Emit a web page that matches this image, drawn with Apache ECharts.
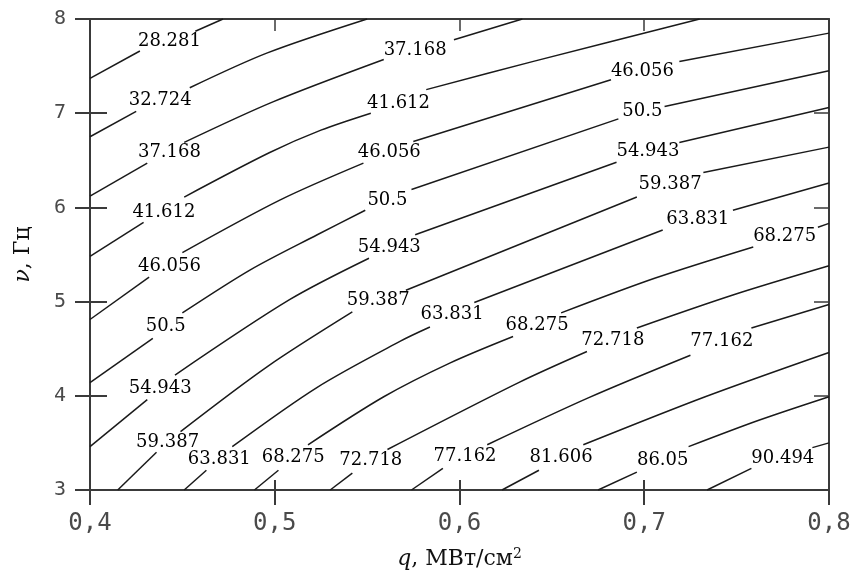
<!DOCTYPE html>
<html><head><meta charset="utf-8">
<script src="https://cdn.jsdelivr.net/npm/echarts@6/dist/echarts.min.js"></script>
<style>html,body{margin:0;padding:0;background:#fff}#c{width:850px;height:573px}</style>
</head><body><div id="c"></div>
<script>
// Tick labels
const xTickLabels = ['0,4', '0,5', '0,6', '0,7', '0,8'];
const yTickLabels = ['3', '4', '5', '6', '7', '8'];

// Contour levels (label text)
const levels = ['28.281', '32.724', '37.168', '41.612', '46.056', '50.5', '54.943', '59.387',
                '63.831', '68.275', '72.718', '77.162', '81.606', '86.05', '90.494'];

// Contour line segments [q, v] (gaps where labels sit) and label anchor points
const c28281 = [[[0.4, 7.37], [0.427, 7.66]], [[0.457, 7.87], [0.472, 8.0]]];
const l28281 = [[0.443, 7.76]];
const c32724 = [[[0.4, 6.75], [0.425, 7.02]], [[0.454, 7.27], [0.496, 7.64], [0.550, 8.0]]];
const l32724 = [[0.438, 7.14]];
const c37168 = [[[0.4, 6.12], [0.431, 6.47]], [[0.451, 6.69], [0.499, 7.12], [0.559, 7.57]], [[0.597, 7.78], [0.634, 8.0]]];
const l37168 = [[0.443, 6.58], [0.576, 7.67]];
const c41612 = [[[0.4, 5.48], [0.429, 5.84]], [[0.451, 6.11], [0.497, 6.58], [0.525, 6.82], [0.552, 7.0]], [[0.582, 7.25], [0.640, 7.55], [0.730, 8.0]]];
const l41612 = [[0.440, 5.95], [0.567, 7.11]];
const c46056 = [[[0.4, 4.81], [0.432, 5.26]], [[0.450, 5.52], [0.503, 6.08], [0.548, 6.47]], [[0.575, 6.70], [0.682, 7.355]], [[0.719, 7.55], [0.8, 7.85]]];
const l46056 = [[0.443, 5.37], [0.562, 6.58], [0.699, 7.44]];
const c50500 = [[[0.4, 4.14], [0.434, 4.61]], [[0.450, 4.88], [0.487, 5.34], [0.523, 5.71], [0.549, 5.97]], [[0.574, 6.19], [0.686, 6.94]], [[0.711, 7.07], [0.8, 7.45]]];
const l50500 = [[0.441, 4.74], [0.561, 6.07], [0.699, 7.02]];
const c54943 = [[[0.4, 3.46], [0.431, 3.96]], [[0.446, 4.22], [0.508, 5.02], [0.551, 5.46]], [[0.576, 5.71], [0.685, 6.48]], [[0.719, 6.69], [0.8, 7.06]]];
const l54943 = [[0.438, 4.08], [0.562, 5.58], [0.702, 6.59]];
const c59387 = [[[0.415, 3.0], [0.436, 3.40]], [[0.449, 3.62], [0.496, 4.31], [0.542, 4.89]], [[0.571, 5.12], [0.696, 6.11]], [[0.732, 6.37], [0.8, 6.64]]];
const l59387 = [[0.442, 3.51], [0.556, 5.01], [0.714, 6.24]];
const c63831 = [[[0.451, 3.0], [0.463, 3.21]], [[0.477, 3.46], [0.523, 4.09], [0.568, 4.58], [0.584, 4.73]], [[0.608, 4.99], [0.710, 5.76]], [[0.748, 5.97], [0.8, 6.26]]];
const l63831 = [[0.470, 3.33], [0.596, 4.86], [0.729, 5.87]];
const c68275 = [[[0.489, 3.0], [0.502, 3.21]], [[0.518, 3.48], [0.559, 3.99], [0.595, 4.35], [0.629, 4.63]], [[0.655, 4.88], [0.706, 5.25], [0.759, 5.58]], [[0.794, 5.79], [0.8, 5.83]]];
const l68275 = [[0.510, 3.35], [0.642, 4.75], [0.776, 5.69]];
const c72718 = [[[0.530, 3.0], [0.542, 3.18]], [[0.561, 3.43], [0.632, 4.14], [0.669, 4.47]], [[0.696, 4.72], [0.748, 5.07], [0.8, 5.38]]];
const l72718 = [[0.552, 3.31], [0.683, 4.59]];
const c77162 = [[[0.574, 3.0], [0.591, 3.23]], [[0.615, 3.48], [0.670, 3.98], [0.725, 4.43]], [[0.758, 4.72], [0.8, 4.97]]];
const l77162 = [[0.603, 3.36], [0.742, 4.58]];
const c81606 = [[[0.623, 3.0], [0.643, 3.21]], [[0.667, 3.48], [0.733, 3.99], [0.8, 4.46]]];
const l81606 = [[0.655, 3.35]];
const c86050 = [[[0.675, 3.0], [0.696, 3.19]], [[0.724, 3.46], [0.762, 3.74], [0.8, 3.99]]];
const l86050 = [[0.710, 3.32]];
const c90494 = [[[0.734, 3.0], [0.758, 3.23]], [[0.791, 3.45], [0.8, 3.50]]];
const l90494 = [[0.775, 3.34]];

const contourSegs = [c28281, c32724, c37168, c41612, c46056, c50500, c54943, c59387, c63831, c68275, c72718, c77162, c81606, c86050, c90494];
const contourLabs = [l28281, l32724, l37168, l41612, l46056, l50500, l54943, l59387, l63831, l68275, l72718, l77162, l81606, l86050, l90494];

const LINE = '#1a1a1a';
const AX = '#3a3a3a';

const series = [];
contourSegs.forEach(function (segs) {
  segs.forEach(function (seg) {
    series.push({
      type: 'line', data: seg, smooth: 0.3, showSymbol: false, symbol: 'none',
      lineStyle: { color: LINE, width: 1.5 }, silent: true, z: 2
    });
  });
});
const labelData = [];
contourLabs.forEach(function (labs, i) {
  labs.forEach(function (p) { labelData.push([p[0], p[1], levels[i]]); });
});
series.push({
  type: 'scatter', data: labelData, symbolSize: 0, itemStyle: { color: '#000', opacity: 1 }, silent: true, z: 5,
  label: {
    show: true, position: [0, 0], align: 'center', verticalAlign: 'middle',
    formatter: function (p) { return p.value[2]; },
    fontFamily: 'DejaVu Serif', fontSize: 18, color: '#000',
    textBorderWidth: 0
  }
});

const xFmt = function (v) { return xTickLabels[Math.round((v - 0.4) / 0.1)]; };
const yFmt = function (v) { return yTickLabels[Math.round(v - 3)]; };

const baseX = { type: 'value', min: 0.4, max: 0.8, interval: 0.1, splitLine: { show: false } };
const baseY = { type: 'value', min: 3, max: 8, interval: 1, splitLine: { show: false } };

const option = {
  animation: false,
  backgroundColor: '#fff',
  grid: { left: 90, right: 21, top: 19, bottom: 83, containLabel: false, outerBoundsMode: 'none' },
  xAxis: [
    Object.assign({}, baseX, {
      position: 'bottom',
      axisLine: { show: true, lineStyle: { color: AX, width: 2 } },
      axisTick: { show: true, inside: false, length: 15, lineStyle: { color: AX, width: 2 } },
      axisLabel: { formatter: xFmt, fontFamily: 'DejaVu Sans Mono', fontSize: 24, color: '#4a4a4a', margin: 22 },
      name: '{i|q}, МВт/см{s|2}', nameLocation: 'middle', nameGap: 57,
      nameTextStyle: {
        fontFamily: 'DejaVu Serif', fontSize: 22, color: '#111',
        rich: {
          i: { fontFamily: 'DejaVu Serif', fontStyle: 'italic', fontSize: 22, color: '#111' },
          s: { fontFamily: 'DejaVu Serif', fontSize: 14, color: '#111', verticalAlign: 'top', padding: [0, 0, 11, 0] }
        }
      }
    }),
    Object.assign({}, baseX, {
      position: 'bottom',
      axisLine: { show: false },
      axisTick: { show: true, inside: true, length: 10, lineStyle: { color: AX, width: 2 } },
      axisLabel: { show: false }
    }),
    Object.assign({}, baseX, {
      position: 'top',
      axisLine: { show: true, lineStyle: { color: AX, width: 2 } },
      axisTick: { show: true, inside: true, length: 12, lineStyle: { color: AX, width: 1.5 } },
      axisLabel: { show: false }
    })
  ],
  yAxis: [
    Object.assign({}, baseY, {
      position: 'left',
      axisLine: { show: true, lineStyle: { color: AX, width: 2 } },
      axisTick: { show: true, inside: false, length: 15, lineStyle: { color: AX, width: 2 } },
      axisLabel: { formatter: yFmt, fontFamily: 'DejaVu Sans Mono', fontSize: 20, color: '#4a4a4a', margin: 24 },
      name: '{i|ν}, Гц', nameLocation: 'middle', nameGap: 56,
      nameTextStyle: {
        fontFamily: 'DejaVu Serif', fontSize: 22, color: '#111',
        rich: { i: { fontFamily: 'DejaVu Serif', fontStyle: 'italic', fontSize: 22, color: '#111' } }
      }
    }),
    Object.assign({}, baseY, {
      position: 'left',
      axisLine: { show: false },
      axisTick: { show: true, inside: true, length: 17, lineStyle: { color: AX, width: 2 } },
      axisLabel: { show: false }
    }),
    Object.assign({}, baseY, {
      position: 'right',
      axisLine: { show: true, lineStyle: { color: AX, width: 2 } },
      axisTick: { show: true, inside: true, length: 15, lineStyle: { color: AX, width: 1.5 } },
      axisLabel: { show: false }
    })
  ],
  series: series
};

const chart = echarts.init(document.getElementById('c'), null, { renderer: 'canvas' });
chart.setOption(option);
</script>
</body></html>
